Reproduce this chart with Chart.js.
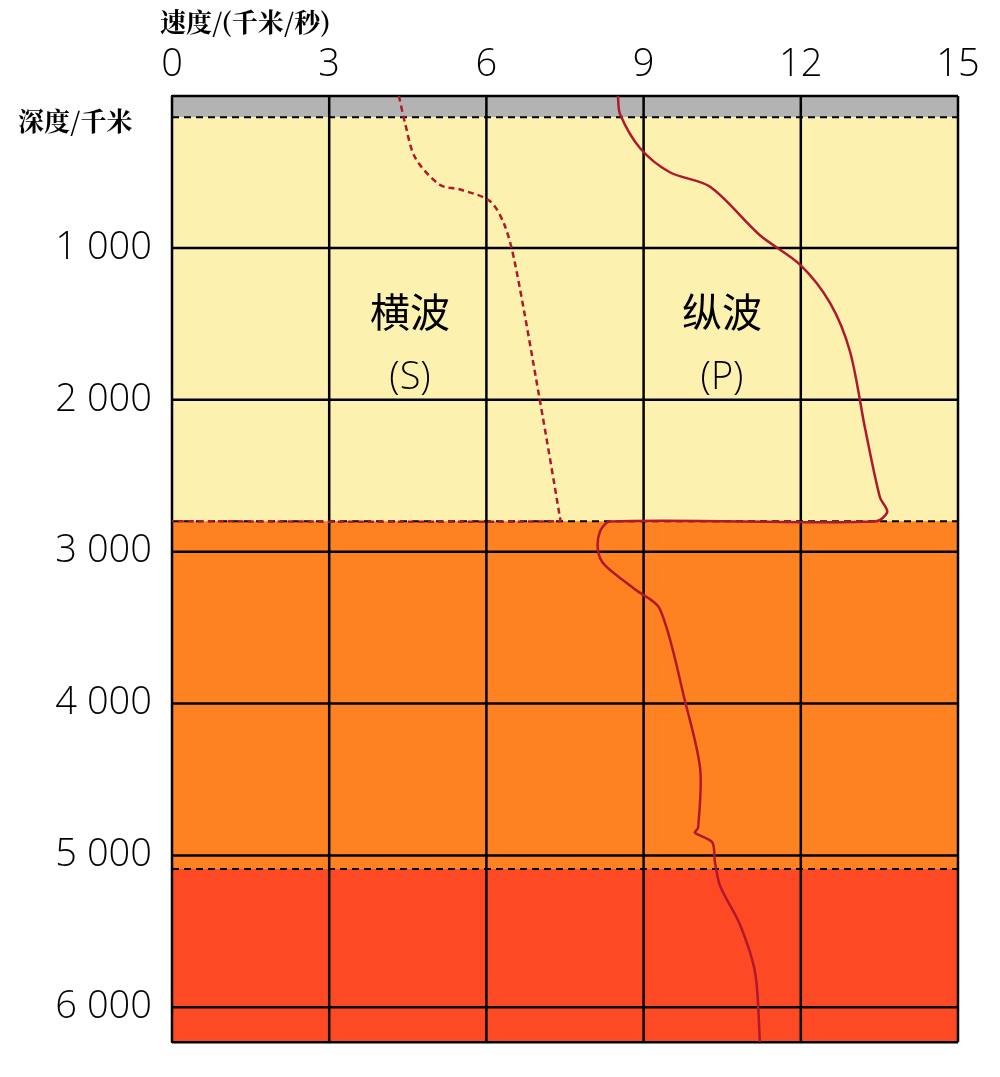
<!DOCTYPE html>
<html><head><meta charset="utf-8">
<script src="https://cdn.jsdelivr.net/npm/chart.js@4"></script>
<style>html,body{margin:0;background:#fff;overflow:hidden}#w{width:1000px;height:1077px}</style>
</head><body><div id="w"><canvas id="c"></canvas></div>
<script>
const xTicks=[0,3,6,9,12,15];
const yTicks=[0,1000,2000,3000,4000,5000,6000];
const layerTops=[0,140,2800,5090];
const layerBottoms=[140,2800,5090,6230];
const layerColors=['#b3b3b3','#fdf1b0','#fe8122','#fe4a24'];
const boundaries=[140,2800,5090];
const sVel=[4.33,4.45,4.64,5.11,5.5,6.07,6.35,6.55,7.02,7.4,7.4,0];
const sDep=[0,182,406,585,616,693,853,1109,2003,2770,2800,2800];
const pVel=[8.51,8.55,8.93,9.5,10.27,11.22,11.98,12.56,12.94,13.23,13.51,13.65,13.42,8.36,8.17,8.13,8.26,8.84,9.31,9.79,10.08,10.04,9.98,10.31,10.36,10.46,10.84,11.13,11.22];
const pDep=[0,118,342,502,598,917,1109,1364,1684,2195,2642,2738,2802,2802,2866,2994,3089,3249,3377,3984,4431,4818,4850,4914,5042,5201,5457,5776,6230];
const pts=(xs,ys)=>xs.map((v,i)=>({x:v,y:ys[i]}));
const bg={id:'bg',beforeDatasetsDraw(ch){const {ctx,chartArea:a,scales:{x,y}}=ch;ctx.save();
 layerTops.forEach((t,i)=>{ctx.fillStyle=layerColors[i];const y0=y.getPixelForValue(t),y1=Math.min(y.getPixelForValue(layerBottoms[i]),a.bottom);ctx.fillRect(a.left,y0,a.right-a.left,y1-y0);});
 ctx.strokeStyle='#000';ctx.lineWidth=2.5;
 xTicks.forEach(v=>{const p=x.getPixelForValue(v);ctx.beginPath();ctx.moveTo(p,a.top);ctx.lineTo(p,a.bottom);ctx.stroke();});
 yTicks.forEach(v=>{const p=y.getPixelForValue(v);ctx.beginPath();ctx.moveTo(a.left,p);ctx.lineTo(a.right,p);ctx.stroke();});
 ctx.beginPath();ctx.moveTo(a.left,a.bottom);ctx.lineTo(a.right,a.bottom);ctx.stroke();
 ctx.lineWidth=2;ctx.setLineDash([7,5]);
 boundaries.forEach(v=>{const p=y.getPixelForValue(v);ctx.beginPath();ctx.moveTo(a.left,p);ctx.lineTo(a.right,p);ctx.stroke();});
 ctx.restore();},
 afterDraw(ch){const {ctx}=ch;ctx.save();ctx.fillStyle='#000';ctx.textAlign='center';ctx.textBaseline='middle';
 ctx.font='40px "Noto Sans CJK SC"';
 ctx.fillText('横波',410,312);ctx.fillText('纵波',722,312);
 ctx.font='300 38px "Open Sans"';ctx.fillText('(S)',410,378);ctx.fillText('(P)',722,378);
 ctx.font='bold 26px "Noto Serif CJK SC","Noto Sans CJK SC"';ctx.textAlign='left';
 ctx.fillText('速度/(千米/秒)',160,22);ctx.fillText('深度/千米',18,121);ctx.restore();}};
new Chart(document.getElementById('c'),{type:'scatter',
data:{datasets:[
{data:pts(sVel,sDep),showLine:true,borderColor:'#b0182b',borderWidth:2.5,borderDash:[6,4],pointRadius:0,tension:0.3},
{data:pts(pVel,pDep),showLine:true,borderColor:'#b0182b',borderWidth:2.5,pointRadius:0,tension:0.3}]},
options:{animation:false,responsive:true,maintainAspectRatio:false,
layout:{padding:{right:42,bottom:-26}},
plugins:{legend:{display:false},tooltip:{enabled:false}},
scales:{
x:{position:'top',min:0,max:15,afterFit(s){s.height=96;},afterBuildTicks(s){s.ticks=xTicks.map(v=>({value:v}));},
 grid:{display:false},border:{display:false},ticks:{color:'#000',font:{size:38,family:'"Open Sans"',weight:300},padding:0,maxRotation:0}},
y:{reverse:true,min:0,max:6230,afterFit(s){s.width=172;},afterBuildTicks(s){s.ticks=yTicks.map(v=>({value:v}));},
 grid:{display:false},border:{color:'#000',width:2.5},
 ticks:{color:'#000',font:{size:38,family:'"Open Sans"',weight:300},padding:12,callback:v=>v===0?'':String(v).replace(/(\d)(\d{3})$/,'$1 $2')}}}},
plugins:[bg]});
</script></body></html>
